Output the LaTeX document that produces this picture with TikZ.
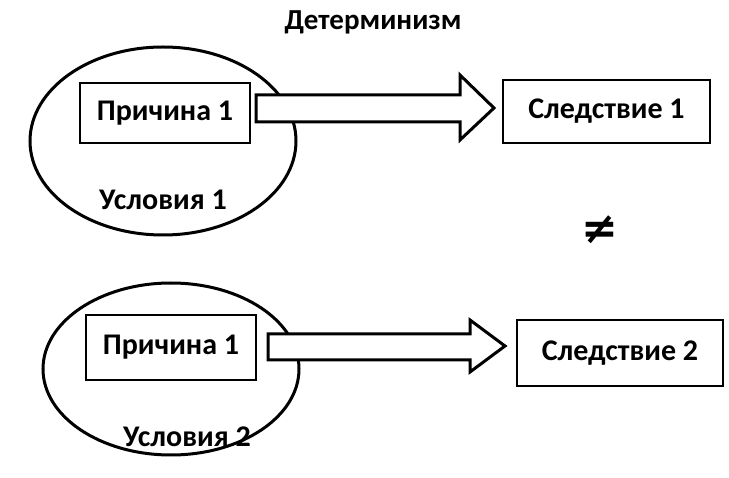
\documentclass[tikz,border=0pt]{standalone}
\usepackage{fontspec}
\setmainfont{Carlito}
\newfontfamily\symf{DejaVu Sans}
\begin{document}
\begin{tikzpicture}[x=1pt,y=-1pt,
  box/.style={draw,line width=1.2pt,fill=white,inner sep=0pt},
  lab/.style={font=\fontsize{30}{33}\selectfont\bfseries},
  ell/.style={draw,line width=3pt},
  blk/.style={draw,line width=3pt,fill=white,line join=miter}]
\useasboundingbox (0,0) rectangle (729,478);
\node[font=\fontsize{29}{32}\selectfont\bfseries] (title) at (373,22) {Детерминизм};
\draw[ell] (163,141) ellipse [x radius=133,y radius=94];
\node[box,minimum width=170pt,minimum height=60pt,lab] (c1) at (165,113) {Причина 1};
\draw[blk] (256,95) -- (460,95) -- (460,75) -- (494,108) -- (460,140) -- (460,122) -- (256,122) -- cycle;
\node[box,minimum width=207pt,minimum height=63pt,lab] (e1) at (606.5,111.5) {Следствие 1};
\node[lab] (u1) at (163,200) {Условия 1};
\node[font=\fontsize{44}{44}\selectfont\bfseries\symf] (ne) at (600,230) {≠};
\draw[ell] (171,369) ellipse [x radius=128,y radius=86];
\node[box,minimum width=170pt,minimum height=65pt,lab] (c2) at (171,347.5) {Причина 1};
\draw[blk] (268,334) -- (470,334) -- (470,320) -- (505,346) -- (470,372) -- (470,360) -- (268,360) -- cycle;
\node[box,minimum width=206pt,minimum height=66pt,lab] (e2) at (620,353) {Следствие 2};
\node[lab] (u2) at (187,437) {Условия 2};
\end{tikzpicture}
\end{document}
